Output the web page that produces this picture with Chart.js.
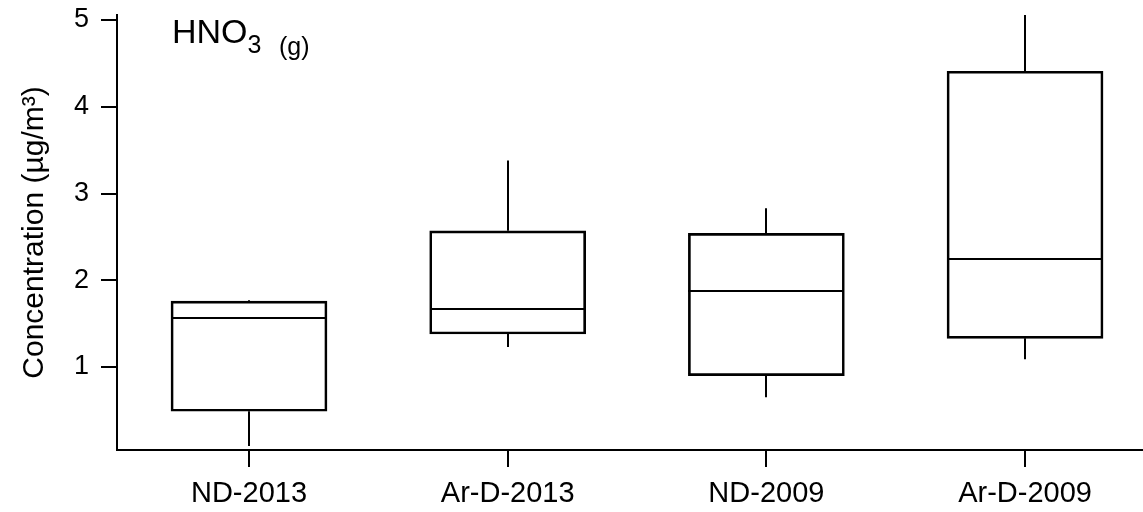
<!DOCTYPE html>
<html>
<head>
<meta charset="utf-8">
<script src="https://cdn.jsdelivr.net/npm/chart.js@4"></script>
<style>
    html, body { margin: 0; padding: 0; background: #fff; }
    #wrap { width: 1143px; height: 512px; }
</style>
</head>
<body>
<div id="wrap"><canvas id="boxChart" width="1143" height="512"></canvas></div>
<script>
// Box plot data
const categories = ['ND-2013', 'Ar-D-2013', 'ND-2009', 'Ar-D-2009'];
const whiskerLow = [0.09, 1.23, 0.65, 1.09];
const q1 = [0.49, 1.38, 0.90, 1.33];
const median = [1.56, 1.67, 1.88, 2.25];
const q3 = [1.76, 2.57, 2.54, 4.41];
const whiskerHigh = [1.77, 3.38, 2.83, 5.3];
const yTicks = [1, 2, 3, 4, 5];

const FONT = "'Liberation Sans', Arial, sans-serif";

// draws medians, whiskers and the HNO3 label
const boxExtras = {
    id: 'boxExtras',
    afterDatasetsDraw(chart) {
        const ctx = chart.ctx;
        const xs = chart.scales.x;
        const ys = chart.scales.y;
        const area = chart.chartArea;
        const half = 78;
        ctx.save();
        ctx.beginPath();
        ctx.rect(area.left, area.top, area.right - area.left, area.bottom - area.top);
        ctx.clip();
        ctx.strokeStyle = '#000';
        ctx.lineWidth = 2;
        ctx.lineCap = 'butt';
        categories.forEach(function(c, i) {
            const cx = Math.round(xs.getPixelForValue(i));
            const yMed = Math.round(ys.getPixelForValue(median[i]));
            ctx.beginPath();
            ctx.moveTo(cx - half, yMed);
            ctx.lineTo(cx + half, yMed);
            ctx.moveTo(cx, ys.getPixelForValue(q3[i]));
            ctx.lineTo(cx, ys.getPixelForValue(whiskerHigh[i]));
            ctx.moveTo(cx, ys.getPixelForValue(q1[i]));
            ctx.lineTo(cx, ys.getPixelForValue(whiskerLow[i]));
            ctx.stroke();
        });
        ctx.restore();

        // species label
        ctx.save();
        ctx.fillStyle = '#000';
        ctx.textBaseline = 'alphabetic';
        ctx.font = '34px ' + FONT;
        ctx.fillText('HNO', 172, 43);
        const w = ctx.measureText('HNO').width;
        ctx.font = '25px ' + FONT;
        ctx.fillText('3', 172 + w, 53);
        ctx.fillText('(g)', 279, 55);
        ctx.restore();
    }
};

document.addEventListener('DOMContentLoaded', function() {
    const ctx = document.getElementById('boxChart');
    new Chart(ctx, {
        type: 'bar',
        data: {
            datasets: [{
                label: 'IQR',
                data: categories.map(function(c, i) { return { x: i, y: [q1[i], q3[i]] }; }),
                backgroundColor: 'rgba(0,0,0,0)',
                borderColor: '#000',
                borderWidth: 2,
                borderSkipped: false,
                barThickness: 156
            }]
        },
        options: {
            responsive: false,
            animation: false,
            layout: { padding: { top: 15, right: 0, left: 0, bottom: 0 } },
            plugins: {
                legend: { display: false },
                tooltip: { enabled: false }
            },
            scales: {
                x: {
                    type: 'linear',
                    offset: false,
                    min: -0.5103,
                    max: 3.456,
                    afterBuildTicks: function(scale) {
                        scale.ticks = categories.map(function(c, i) { return { value: i }; });
                    },
                    afterFit: function(scale) {
                        scale.height = 62;
                        scale.paddingLeft = 0;
                        scale.paddingRight = 0;
                    },
                    ticks: {
                        color: '#000',
                        font: { family: FONT, size: 29 },
                        padding: 10,
                        maxRotation: 0,
                        autoSkip: false,
                        callback: function(value) { return categories[value]; }
                    },
                    grid: {
                        offset: false,
                        drawOnChartArea: false,
                        color: '#000',
                        lineWidth: 2,
                        tickLength: 17
                    },
                    border: { color: '#000', width: 2 }
                },
                y: {
                    min: 0.043,
                    max: 5.058,
                    afterBuildTicks: function(scale) {
                        scale.ticks = yTicks.map(function(v) { return { value: v }; });
                    },
                    afterFit: function(scale) {
                        scale.width = 117;
                        scale.paddingTop = 0;
                        scale.paddingBottom = 0;
                    },
                    ticks: {
                        color: '#000',
                        font: { family: FONT, size: 27 },
                        padding: 12
                    },
                    grid: {
                        drawOnChartArea: false,
                        color: '#000',
                        lineWidth: 2,
                        tickLength: 16
                    },
                    border: { color: '#000', width: 2 },
                    title: {
                        display: true,
                        text: 'Concentration (µg/m³)',
                        color: '#000',
                        font: { family: FONT, size: 30 },
                        padding: { top: 17, bottom: 0 }
                    }
                }
            }
        },
        plugins: [boxExtras]
    });
});
</script>
</body>
</html>
